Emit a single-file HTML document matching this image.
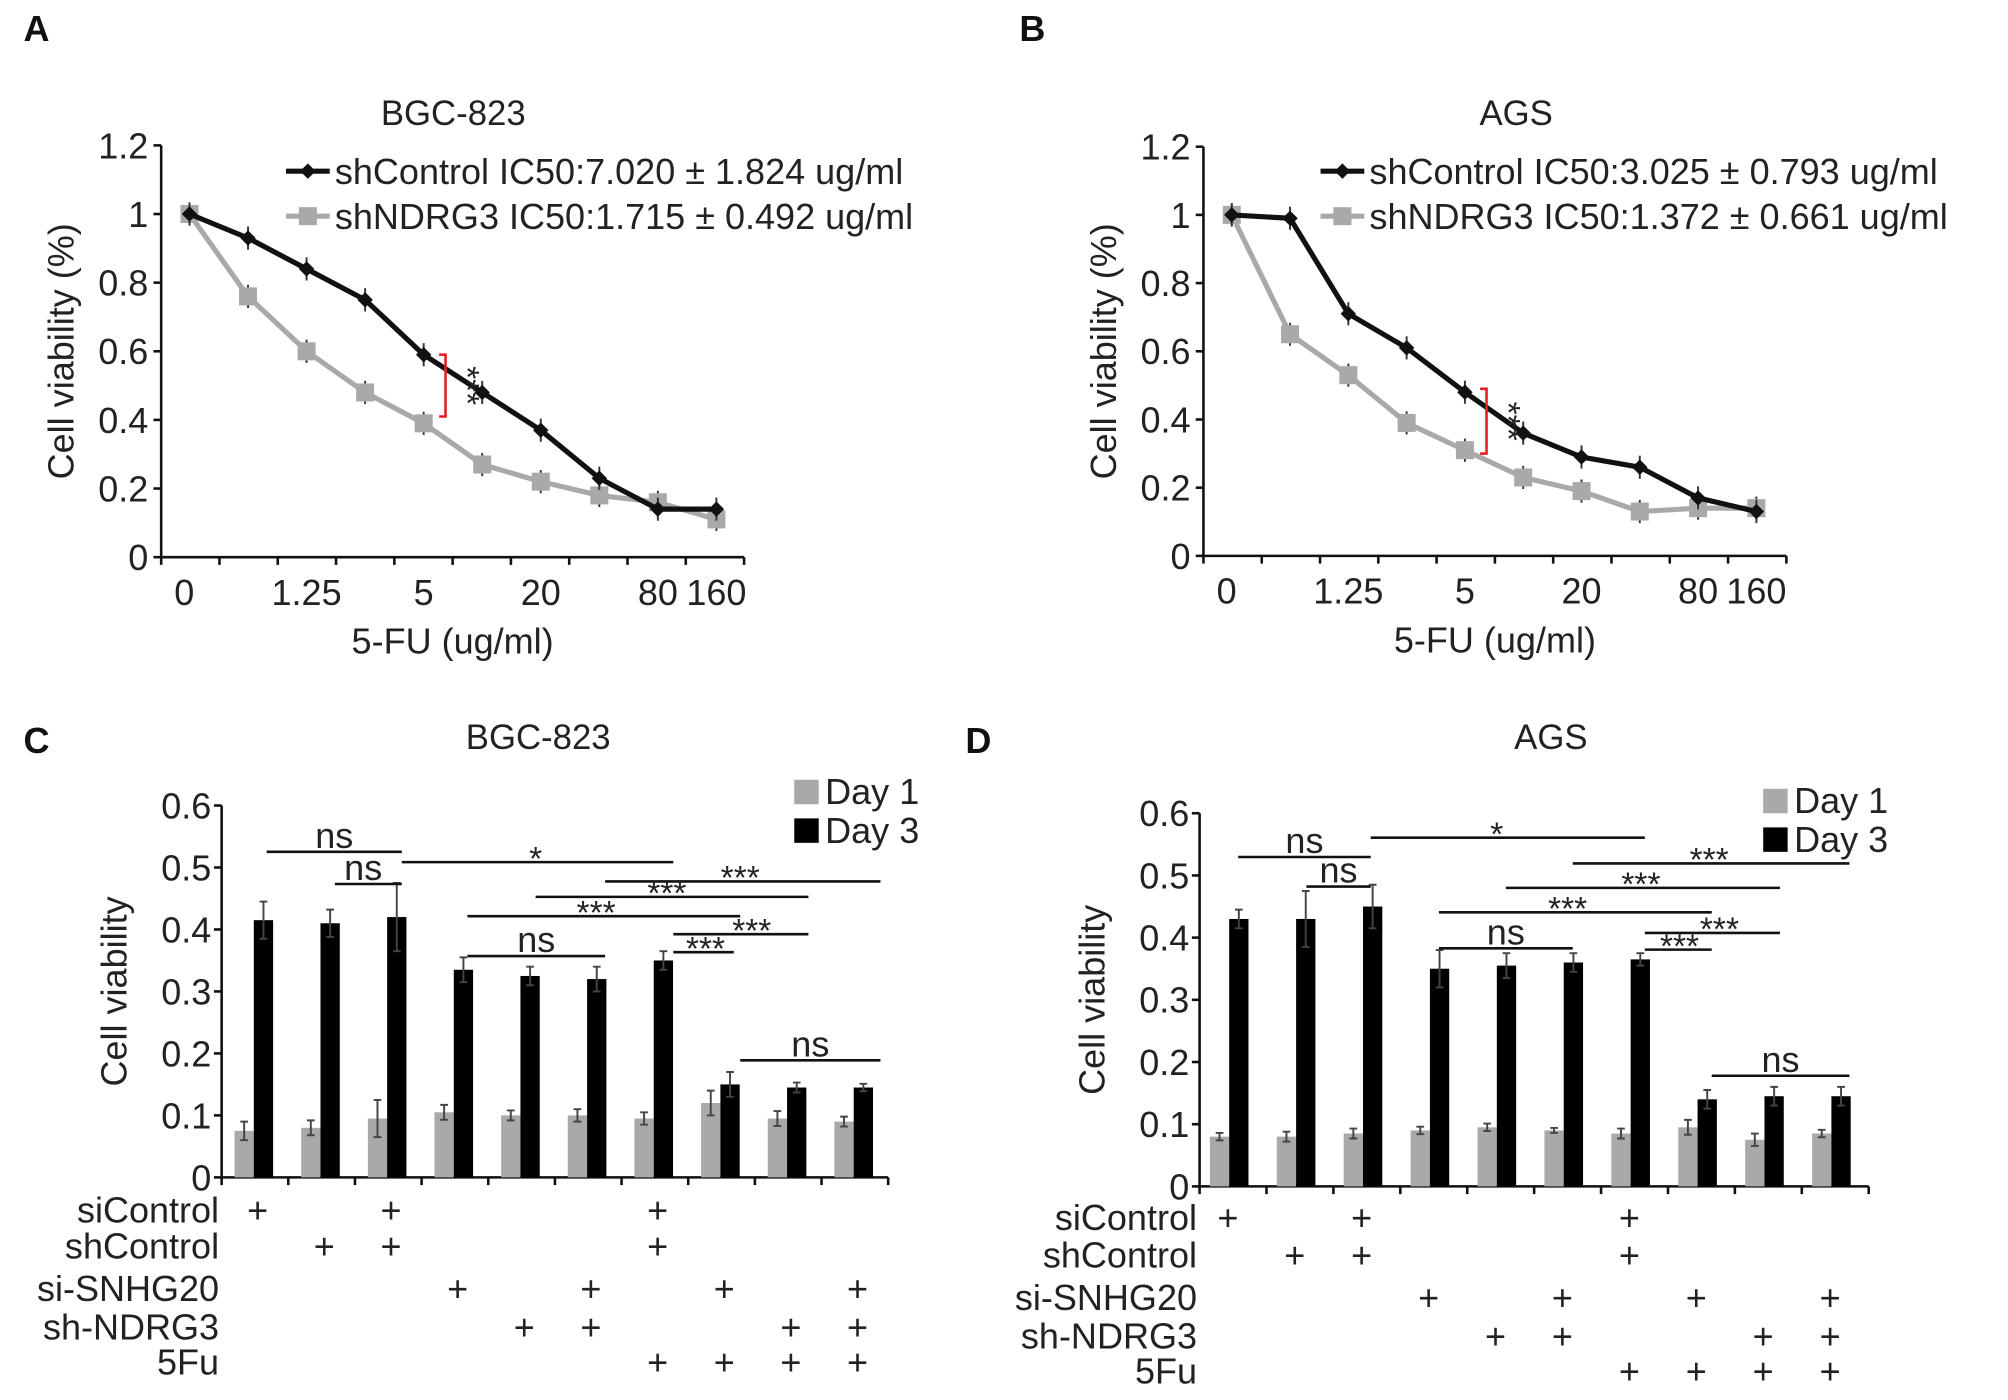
<!DOCTYPE html>
<html><head><meta charset="utf-8"><style>
html,body{margin:0;padding:0;background:#fff}
svg{display:block;font-family:"Liberation Sans",Arial,sans-serif}
</style></head><body>
<svg id="fig" width="2008" height="1400" viewBox="0 0 1560 1088" xmlns="http://www.w3.org/2000/svg"></svg>
<script>
// Line chart data
const doseLabels = ["0","1.25","5","20","80","160"];
const doseLabelIdx = [0,2,4,6,8,9];
const aCtrl = [1,0.93,0.84,0.75,0.59,0.48,0.37,0.23,0.14,0.14];
const aNdrg = [1,0.76,0.60,0.48,0.39,0.27,0.22,0.18,0.16,0.11];
const bCtrl = [1,0.99,0.71,0.61,0.48,0.36,0.29,0.26,0.17,0.13];
const bNdrg = [1,0.65,0.53,0.39,0.31,0.23,0.19,0.13,0.14,0.14];
const lineTicks = [0,0.2,0.4,0.6,0.8,1,1.2];
const lineTickLabels = ["0","0.2","0.4","0.6","0.8","1","1.2"];
// Bar chart data
const cDay1 = [0.075,0.08,0.095,0.105,0.10,0.10,0.095,0.12,0.095,0.09];
const cDay3 = [0.415,0.41,0.42,0.335,0.325,0.32,0.35,0.15,0.145,0.145];
const dDay1 = [0.08,0.08,0.085,0.09,0.095,0.09,0.085,0.095,0.075,0.085];
const dDay3 = [0.43,0.43,0.45,0.35,0.355,0.36,0.365,0.14,0.145,0.145];
const barTicks = [0,0.1,0.2,0.3,0.4,0.5,0.6];
const barTickLabels = ["0","0.1","0.2","0.3","0.4","0.5","0.6"];
const rowNames = ["siControl","shControl","si-SNHG20","sh-NDRG3","5Fu"];
const rowGroups = [[0,2,6],[1,2,6],[3,5,7,9],[4,5,8,9],[6,7,8,9]];

const svg=document.getElementById('fig');
const NS='http://www.w3.org/2000/svg';
function mk(tag,attrs,text){const e=document.createElementNS(NS,tag);for(const k in attrs)e.setAttribute(k,attrs[k]);if(text!==undefined)e.textContent=text;svg.appendChild(e);return e;}

function txt(x,y,s,size,anchor,name){const t=mk('text',{x:x,y:y,'font-size':size,'text-anchor':anchor||'middle',fill:'#222'},s);

return t;}

// panel letters
[['A',18,32],['B',792,32],['C',18,585],['D',750,585]].forEach(p=>{const t=mk('text',{x:p[1],y:p[2],'font-size':28,'font-weight':'bold',fill:'#111'},p[0]);

});

function linePanel(o){
  const y=v=>o.y0-(v/1.2)*(o.y0-o.y12);
  const x=i=>o.x0p+i*o.dx;
  txt(o.titleX,97,o.title,27,'middle','chart-title');
  const ax=mk('path',{d:`M${o.ax},${o.y12} V${o.y0} H${o.axEnd}`,stroke:'#111','stroke-width':2,fill:'none'});
  
  
  lineTicks.forEach((v,i)=>{mk('line',{x1:o.ax-6,x2:o.ax,y1:y(v),y2:y(v),stroke:'#111','stroke-width':2});
    txt(o.ax-10,y(v)+10,lineTickLabels[i],28,'end','y-tick-label');});
  for(let i=0;i<=10;i++){const tx=o.ax+i*(o.axEnd-o.ax)/10;mk('line',{x1:tx,x2:tx,y1:o.y0,y2:o.y0+6,stroke:'#111','stroke-width':2});}
  doseLabels.forEach((s,i)=>txt(x(doseLabelIdx[i])+(i==0?-4:0),o.y0+37,s,28,'middle','x-tick-label'));
  txt((o.ax+o.axEnd)/2,o.y0+75,'5-FU (ug/ml)',28,'middle','x-axis-title');
  const yt=txt(0,0,'Cell viability (%)',28,'middle','y-axis-title');
  yt.setAttribute('transform',`translate(${o.ax-68},${(o.y0+o.y12)/2}) rotate(-90)`);
  [[o.ndrg,'#a9a9a9','shndrg3'],[o.ctrl,'#111','shcontrol']].forEach(([d,c,n])=>{
    const pl=mk('polyline',{points:d.map((v,i)=>x(i)+','+y(v)).join(' '),stroke:c,'stroke-width':4,fill:'none'});
    
    
    d.forEach((v,i)=>{
      mk('line',{x1:x(i),x2:x(i),y1:y(v)-9,y2:y(v)+9,stroke:'#333','stroke-width':1.5});
      let m;
      if(c=='#111'){m=mk('path',{d:`M${x(i)-6},${y(v)} L${x(i)},${y(v)-6} L${x(i)+6},${y(v)} L${x(i)},${y(v)+6}Z`,fill:c});}
      else{m=mk('rect',{x:x(i)-7,y:y(v)-7,width:14,height:14,fill:c});}
      
      
    });
  });
  const bx=o.brX;
  mk('path',{d:`M${bx-5},${y(o.br[0])} H${bx} V${y(o.br[1])} H${bx-5}`,stroke:'#e02020','stroke-width':2,fill:'none'});
  const st=txt(0,0,'***',26,'middle','significance');st.setAttribute('transform',`translate(${bx+8},${(y(o.br[0])+y(o.br[1]))/2}) rotate(90)`);
  const lx=o.legX;
  mk('line',{x1:lx,x2:lx+34,y1:133,y2:133,stroke:'#111','stroke-width':4});
  mk('path',{d:`M${lx+11},133 l6,-6 l6,6 l-6,6z`,fill:'#111'});
  txt(lx+38,143,'shControl  IC50:'+o.ic[0],28,'start','legend-shcontrol');
  mk('line',{x1:lx,x2:lx+34,y1:168,y2:168,stroke:'#a9a9a9','stroke-width':4});
  mk('rect',{x:lx+10,y:161,width:14,height:14,fill:'#a9a9a9'});
  txt(lx+38,178,'shNDRG3 IC50:'+o.ic[1],28,'start','legend-shndrg3');
}
linePanel({title:'BGC-823',titleX:352,ax:125,axEnd:578,y0:433,y12:113,x0p:147,dx:45.5,ctrl:aCtrl,ndrg:aNdrg,brX:346,br:[0.59,0.41],legX:222,ic:['7.020 ± 1.824 ug/ml','1.715 ± 0.492 ug/ml']});
linePanel({title:'AGS',titleX:1178,ax:935,axEnd:1388,y0:432,y12:114,x0p:957,dx:45.3,ctrl:bCtrl,ndrg:bNdrg,brX:1155,br:[0.49,0.30],legX:1026,ic:['3.025 ± 0.793 ug/ml','1.372 ± 0.661 ug/ml']});

function barPanel(o){
  const y=v=>o.y0-(v/0.6)*(o.y0-o.y6);
  txt(o.titleX,582,o.title,27,'middle','chart-title');
  const ax=mk('path',{d:`M${o.ax},${o.y6} V${o.y0} H${o.axEnd}`,stroke:'#111','stroke-width':2,fill:'none'});
  
  
  barTicks.forEach((v,i)=>{mk('line',{x1:o.ax-6,x2:o.ax,y1:y(v),y2:y(v),stroke:'#111','stroke-width':2});
    txt(o.ax-8,y(v)+10,barTickLabels[i],28,'end','y-tick-label');});
  for(let i=0;i<=10;i++){const tx=o.ax+i*o.gw;mk('line',{x1:tx,x2:tx,y1:o.y0,y2:o.y0+6,stroke:'#111','stroke-width':2});}
  const yt=txt(0,0,'Cell viability',28,'middle','y-axis-title');
  yt.setAttribute('transform',`translate(${o.ax-74},${(o.y0+o.y6)/2}) rotate(-90)`);
  o.d1.forEach((v,i)=>{
    const gx=o.ax+o.bOff+i*o.gw;
    [[v,'#a9a9a9',gx,'day1',o.e1[i]],[o.d3[i],'#000',gx+15,'day3',o.e3[i]]].forEach(([val,c,bx,n,e])=>{
      const r=mk('rect',{x:bx,y:y(val),width:15,height:o.y0-y(val),fill:c});
      
      
      const cx=bx+7.5;
      mk('path',{d:`M${cx},${y(val-e)} V${y(val+e)} M${cx-3},${y(val-e)} h6 M${cx-3},${y(val+e)} h6`,stroke:'#444','stroke-width':1.5,fill:'none'});
    });
  });
  rowNames.forEach((nm,r)=>{
    txt(o.ax-2,o.rowY[r]+10,nm,28,'end','row-label-'+nm.toLowerCase());
    rowGroups[r].forEach(g=>txt(o.ax+o.pOff+g*o.gw,o.rowY[r]+10,'+',28,'middle','plus-marker'));
  });
  o.sig.forEach(s=>{
    const l=mk('line',{x1:s[0],x2:s[1],y1:s[2],y2:s[2],stroke:'#111','stroke-width':2});
    
    
    txt(s[4]||(s[0]+s[1])/2,s[3]=='ns'?s[2]-3:s[2]+6,s[3],s[3]=='ns'?28:26,'middle','significance-label');
  });
  const lx=o.legX;
  mk('rect',{x:lx,y:o.legY,width:19,height:19,fill:'#a9a9a9'});
  txt(lx+24,o.legY+19,'Day 1',28,'start','legend-day1');
  mk('rect',{x:lx,y:o.legY+30,width:19,height:19,fill:'#000'});
  txt(lx+24,o.legY+49,'Day 3',28,'start','legend-day3');
}
barPanel({title:'BGC-823',titleX:418,ax:172,axEnd:690,y0:915,y6:626,gw:51.8,bOff:10,pOff:28,d1:cDay1,d3:cDay3,
 e1:[0.015,0.012,0.03,0.012,0.008,0.01,0.01,0.02,0.012,0.008],e3:[0.03,0.022,0.055,0.02,0.015,0.02,0.015,0.02,0.008,0.006],
 rowY:[940,968,1001,1031,1058],legX:617,legY:606,
 sig:[[207,312,662,'ns'],[260,312,687,'ns',282],[312,523,670,'*',416],[470,684,685,'***',575],[416,628,697,'***',518],[363,575,712,'***',463],[363,470,743,'ns'],[523,628,726,'***',584],[523,570,740,'***',548],[575,684,824,'ns']]});
barPanel({title:'AGS',titleX:1205,ax:932,axEnd:1452,y0:922,y6:632,gw:52,bOff:8,pOff:22,d1:dDay1,d3:dDay3,
 e1:[0.006,0.008,0.008,0.006,0.006,0.004,0.008,0.012,0.01,0.006],e3:[0.015,0.045,0.035,0.03,0.02,0.015,0.01,0.015,0.015,0.015],
 rowY:[946,975,1008,1038,1065],legX:1370,legY:613,
 sig:[[962,1065,666,'ns'],[1015,1065,689,'ns',1040],[1065,1278,651,'*',1163],[1222,1437,671,'***',1328],[1170,1383,690,'***',1275],[1118,1330,709,'***',1218],[1118,1222,737,'ns'],[1278,1383,725,'***',1336],[1278,1330,738,'***',1305],[1330,1437,836,'ns']]});
</script>
</body></html>
